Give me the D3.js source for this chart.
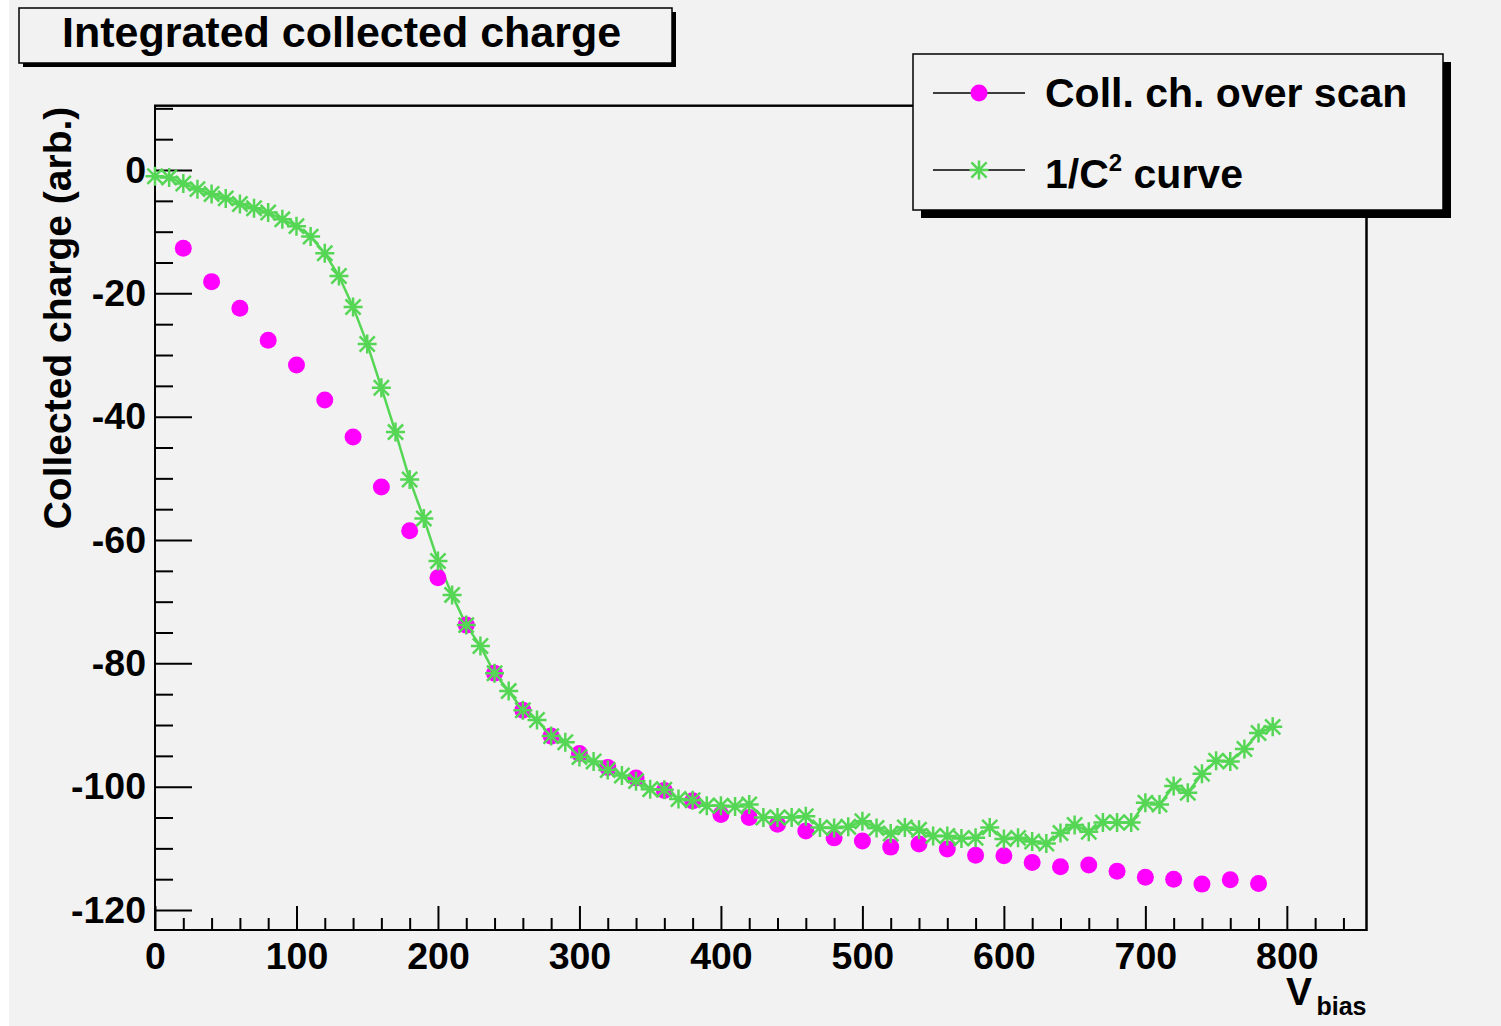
<!DOCTYPE html>
<html>
<head>
<meta charset="utf-8">
<script src="https://cdn.jsdelivr.net/npm/d3@7"></script>
<style>
  html, body { margin: 0; padding: 0; background: #ffffff; }
  svg { display: block; }
  text { font-family: "Liberation Sans", Arial, Helvetica, sans-serif; font-weight: bold; fill: #000; }
</style>
</head>
<body>
<svg id="chart" width="1501" height="1026"></svg>
<script>
// ---------------- DATA ----------------
const chartTitle = "Integrated collected charge";
const xAxisTitle = "V";
const xAxisSub = "bias";
const yAxisTitle = "Collected charge (arb.)";
const seriesNames = ["Coll. ch. over scan", "1/C", "2", " curve"];

const xTicks = [0, 100, 200, 300, 400, 500, 600, 700, 800];
const yTicks = [-120, -100, -80, -60, -40, -20, 0];

// magenta circles: collected charge over scan
const scanVolt = [20, 40, 60, 80, 100, 120, 140, 160, 180, 200, 220, 240, 260, 280, 300, 320, 340, 360, 380, 400,
                  420, 440, 460, 480, 500, 520, 540, 560, 580, 600, 620, 640, 660, 680, 700, 720, 740, 760, 780];
const scanCharge = [-12.7, -18.1, -22.4, -27.6, -31.6, -37.3, -43.3, -51.4, -58.5, -66.1, -73.8, -81.6, -87.6, -91.8,
                    -94.6, -96.9, -98.6, -100.6, -102.3, -104.5, -105.0, -106.1, -107.2, -108.3, -108.8, -109.8,
                    -109.3, -110.1, -111.1, -111.2, -112.3, -113.0, -112.7, -113.7, -114.7, -115.0, -115.8, -115.1, -115.7];

// green stars: 1/C^2 curve
const cvVolt = [0, 10, 20, 30, 40, 50, 60, 70, 80, 90, 100, 110, 120, 130, 140, 150, 160, 170, 180, 190,
                200, 210, 220, 230, 240, 250, 260, 270, 280, 290, 300, 310, 320, 330, 340, 350, 360, 370, 380, 390,
                400, 410, 420, 430, 440, 450, 460, 470, 480, 490, 500, 510, 520, 530, 540, 550, 560, 570, 580, 590,
                600, 610, 620, 630, 640, 650, 660, 670, 680, 690, 700, 710, 720, 730, 740, 750, 760, 770, 780, 790];
const cvCharge = [-1.0, -1.2, -2.2, -3.1, -3.9, -4.6, -5.5, -6.2, -6.9, -8.0,
                  -9.1, -10.8, -13.5, -17.2, -22.2, -28.2, -35.3, -42.5, -50.2, -56.5,
                  -63.4, -68.9, -73.8, -77.2, -81.6, -84.5, -87.6, -89.2, -91.8, -92.8,
                  -95.2, -95.9, -97.3, -98.2, -99.1, -100.4, -100.5, -102.0, -102.2, -103.1,
                  -103.1, -103.2, -102.9, -105.0, -105.0, -105.0, -104.8, -106.6, -106.7, -106.5,
                  -105.6, -106.7, -107.6, -106.6, -107.0, -108.0, -108.0, -108.4, -108.3, -106.6,
                  -108.5, -108.3, -108.9, -109.2, -107.5, -106.2, -107.3, -105.8, -105.8, -105.8,
                  -102.6, -102.9, -99.9, -101.0, -97.9, -95.8, -95.9, -93.9, -91.3, -90.3];

// ---------------- LAYOUT / STYLE ----------------
const W = 1501, H = 1026;
const frame = { left: 155, right: 1366.5, top: 105.7, bottom: 930 };
const xDomain = [0, 856.3];
const yDomain = [-123.24, 10.43];
const magenta = "#ff00ff";
const green = "#55d655";
const bg = "#f2f2f2";
const fmt = d => String(d);

const svg = d3.select("#chart");

// canvas background
svg.append("rect").attr("x", 9).attr("y", 0).attr("width", W - 9).attr("height", H).attr("fill", bg);

const x = d3.scaleLinear().domain(xDomain).range([frame.left, frame.right]);
const y = d3.scaleLinear().domain(yDomain).range([frame.bottom, frame.top]);

// frame
svg.append("rect")
  .attr("x", frame.left).attr("y", frame.top)
  .attr("width", frame.right - frame.left).attr("height", frame.bottom - frame.top)
  .attr("fill", bg).attr("stroke", "#000").attr("stroke-width", 2);

// minor ticks
const xMinor = d3.range(0, xDomain[1], 20).filter(v => v % 100 !== 0);
const yMinor = d3.range(-120, yDomain[1], 5).filter(v => v % 20 !== 0);

svg.append("g")
  .attr("transform", `translate(0,${frame.bottom})`)
  .call(d3.axisBottom(x).tickValues(xMinor).tickSize(-12).tickSizeOuter(0).tickFormat(""))
  .call(g => g.select(".domain").remove())
  .call(g => g.selectAll("line").attr("stroke", "#000").attr("stroke-width", 2));

svg.append("g")
  .attr("transform", `translate(${frame.left},0)`)
  .call(d3.axisLeft(y).tickValues(yMinor).tickSize(-18).tickSizeOuter(0).tickFormat(""))
  .call(g => g.select(".domain").remove())
  .call(g => g.selectAll("line").attr("stroke", "#000").attr("stroke-width", 2));

// major ticks + labels
svg.append("g")
  .attr("transform", `translate(0,${frame.bottom})`)
  .call(d3.axisBottom(x).tickValues(xTicks).tickSize(-24).tickSizeOuter(0).tickPadding(12).tickFormat(fmt))
  .call(g => g.select(".domain").remove())
  .call(g => g.selectAll("line").attr("stroke", "#000").attr("stroke-width", 2))
  .call(g => g.selectAll("text").attr("font-size", 37.5).attr("font-family", null).attr("fill", "#000"));

svg.append("g")
  .attr("transform", `translate(${frame.left},0)`)
  .call(d3.axisLeft(y).tickValues(yTicks).tickSize(-37).tickSizeOuter(0).tickPadding(9).tickFormat(fmt))
  .call(g => g.select(".domain").remove())
  .call(g => g.selectAll("line").attr("stroke", "#000").attr("stroke-width", 2))
  .call(g => g.selectAll("text").attr("font-size", 37.5).attr("font-family", null).attr("fill", "#000"));

// redraw frame border on top of ticks
svg.append("rect")
  .attr("x", frame.left).attr("y", frame.top)
  .attr("width", frame.right - frame.left).attr("height", frame.bottom - frame.top)
  .attr("fill", "none").attr("stroke", "#000").attr("stroke-width", 2);

// axis titles
svg.append("text")
  .attr("transform", `translate(71,${frame.top + 1}) rotate(-90)`)
  .attr("text-anchor", "end")
  .attr("font-size", 39)
  .text(yAxisTitle);

svg.append("text")
  .attr("x", 1286).attr("y", 1005)
  .attr("font-size", 39)
  .text(xAxisTitle);
svg.append("text")
  .attr("x", frame.right).attr("y", 1015)
  .attr("text-anchor", "end")
  .attr("font-size", 25)
  .text(xAxisSub);

// star marker path
function starPath(s) {
  const d = s * 0.8;
  return `M${-s},0H${s}M0,${-s}V${s}M${-d},${-d}L${d},${d}M${-d},${d}L${d},${-d}`;
}

// green line + stars
const cvData = cvVolt.map((v, i) => [v, cvCharge[i]]);
svg.append("path")
  .datum(cvData)
  .attr("fill", "none")
  .attr("stroke", green)
  .attr("stroke-width", 2.5)
  .attr("d", d3.line().x(d => x(d[0])).y(d => y(d[1])));

// magenta circles
const scanData = scanVolt.map((v, i) => [v, scanCharge[i]]);
svg.append("g").selectAll("circle")
  .data(scanData).join("circle")
  .attr("cx", d => x(d[0])).attr("cy", d => y(d[1]))
  .attr("r", 8.5).attr("fill", magenta);

svg.append("g").selectAll("path")
  .data(cvData).join("path")
  .attr("transform", d => `translate(${x(d[0])},${y(d[1])})`)
  .attr("d", starPath(9.5))
  .attr("fill", "none").attr("stroke", green).attr("stroke-width", 2.5);

// title box
const tb = { x: 19, y: 8, w: 653, h: 55, sh: 4 };
svg.append("rect").attr("x", tb.x + tb.sh).attr("y", tb.y + tb.sh).attr("width", tb.w).attr("height", tb.h).attr("fill", "#000");
svg.append("rect").attr("x", tb.x).attr("y", tb.y).attr("width", tb.w).attr("height", tb.h)
  .attr("fill", bg).attr("stroke", "#000").attr("stroke-width", 1.5);
svg.append("text").attr("x", 62).attr("y", 47).attr("font-size", 43).text(chartTitle);

// legend
const lg = { x: 913, y: 54, w: 530, h: 156, sh: 8 };
svg.append("rect").attr("x", lg.x + lg.sh).attr("y", lg.y + lg.sh).attr("width", lg.w).attr("height", lg.h).attr("fill", "#000");
svg.append("rect").attr("x", lg.x).attr("y", lg.y).attr("width", lg.w).attr("height", lg.h)
  .attr("fill", bg).attr("stroke", "#000").attr("stroke-width", 1.5);

const legY = [93, 170];
legY.forEach(yy => {
  svg.append("line").attr("x1", 933).attr("x2", 1025).attr("y1", yy).attr("y2", yy)
    .attr("stroke", "#000").attr("stroke-width", 1.5);
});
svg.append("circle").attr("cx", 979).attr("cy", legY[0]).attr("r", 8.5).attr("fill", magenta);
svg.append("path").attr("transform", `translate(979,${legY[1]})`).attr("d", starPath(9.5))
  .attr("fill", "none").attr("stroke", green).attr("stroke-width", 2.5);

svg.append("text").attr("x", 1045).attr("y", 107).attr("font-size", 41).text(seriesNames[0]);
const t2 = svg.append("text").attr("x", 1045).attr("y", 188).attr("font-size", 41);
t2.append("tspan").text(seriesNames[1]);
t2.append("tspan").attr("font-size", 24).attr("dy", -17).text(seriesNames[2]);
t2.append("tspan").attr("dy", 17).text(seriesNames[3]);
</script>
</body>
</html>
